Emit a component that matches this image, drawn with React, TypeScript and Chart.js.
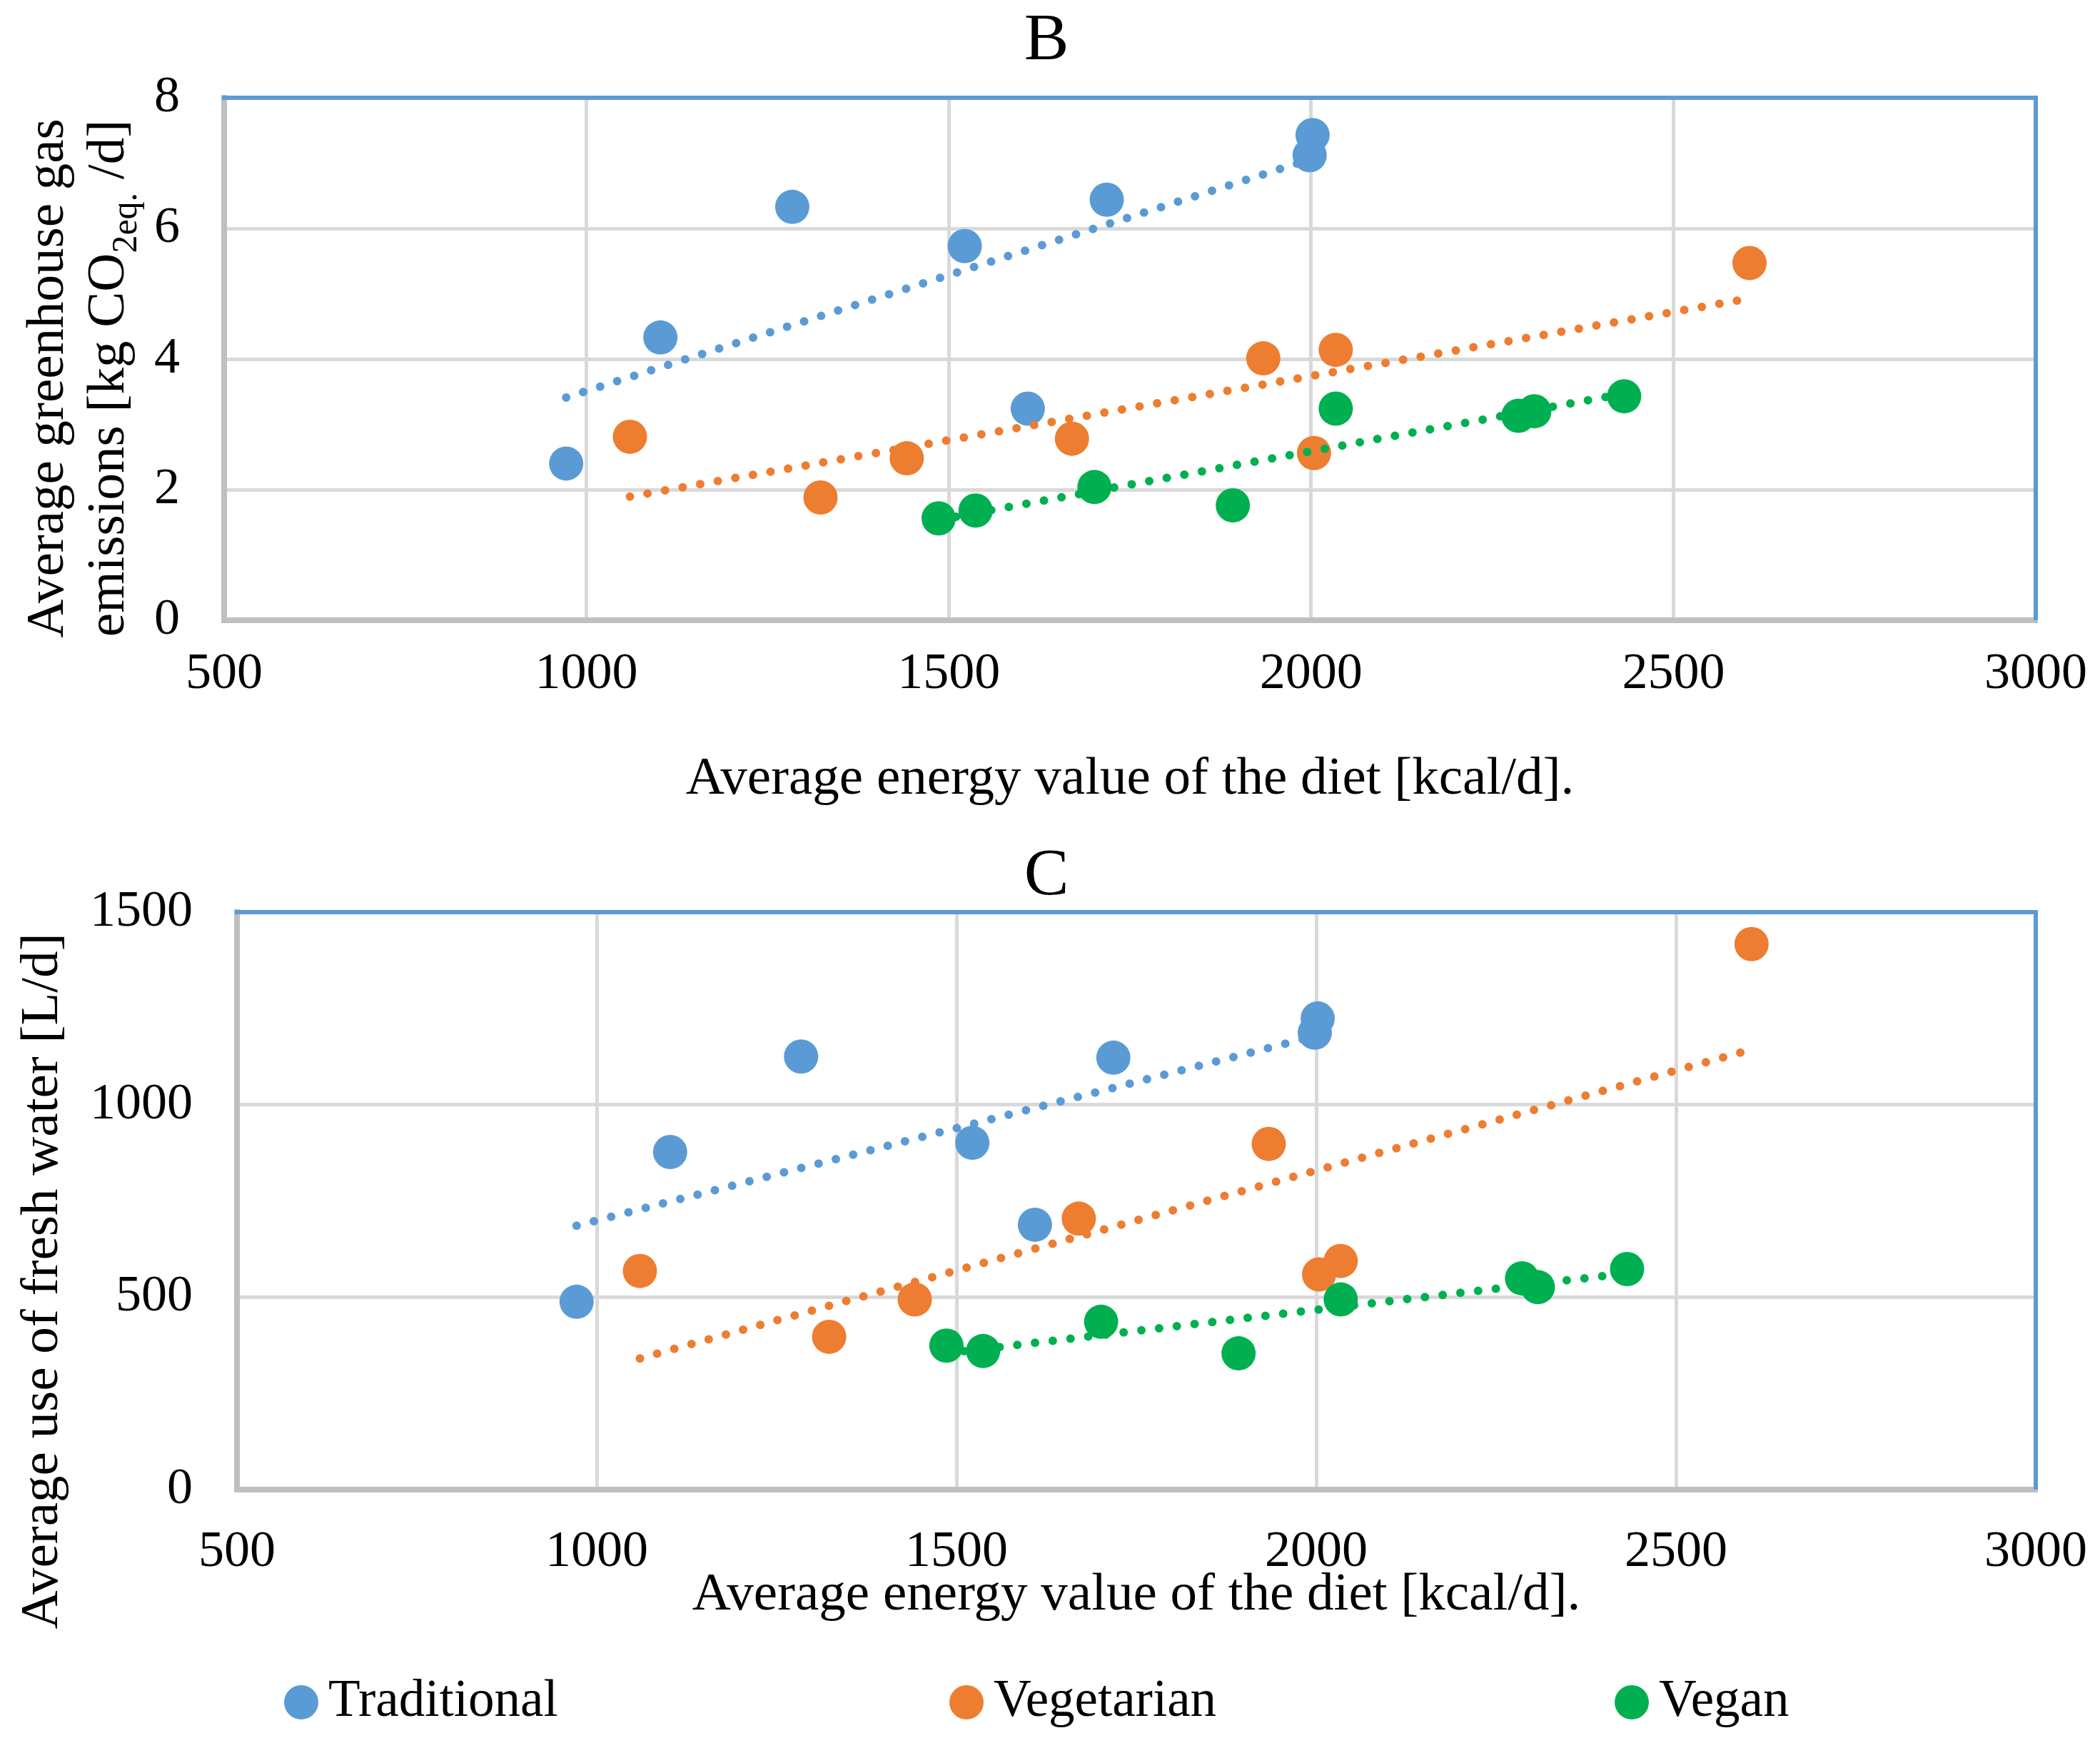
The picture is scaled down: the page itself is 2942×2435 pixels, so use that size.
import React, { useEffect, useRef } from "react";
import { Chart, registerables } from "chart.js";

Chart.register(...registerables);

const FONT = "'Liberation Serif', 'Times New Roman', Times, serif";

// ---- data ----
const seriesNames = ["Traditional", "Vegetarian", "Vegan"];
const seriesColors = ["#5B9BD5", "#ED7D31", "#00B050"];

const energyTraditional = [972, 1102, 1284, 1522, 1609, 1718, 2002, 1998];
const energyVegetarian = [1060, 1323, 1442, 1670, 1934, 2034, 2004, 2605];
const energyVegan = [1486, 1537, 1701, 1892, 2034, 2286, 2308, 2432];

const ghgTraditional = [2.4, 4.33, 6.33, 5.73, 3.24, 6.44, 7.43, 7.12];
const ghgVegetarian = [2.81, 1.88, 2.48, 2.78, 4.01, 4.14, 2.56, 5.47];
const ghgVegan = [1.56, 1.68, 2.04, 1.76, 3.24, 3.13, 3.2, 3.43];

const waterTraditional = [488, 877, 1125, 901, 688, 1122, 1224, 1187];
const waterVegetarian = [568, 397, 494, 704, 898, 594, 559, 1417];
const waterVegan = [374, 360, 436, 354, 494, 549, 526, 573];

const xTicks = [500, 1000, 1500, 2000, 2500, 3000];
const ghgTicks = [0, 2, 4, 6, 8];
const waterTicks = [0, 500, 1000, 1500];

const xTitle = "Average energy value of the diet [kcal/d].";

// ---- helpers ----
function pairs(xs: number[], ys: number[]) {
  return xs.map((x, i) => ({ x, y: ys[i] }));
}

// linear least-squares trendline (as Excel's linear trendline) over data range
function trend(xs: number[], ys: number[]) {
  const n = xs.length;
  const mx = xs.reduce((a, b) => a + b, 0) / n;
  const my = ys.reduce((a, b) => a + b, 0) / n;
  let sxy = 0;
  let sxx = 0;
  for (let i = 0; i < n; i++) {
    sxy += (xs[i] - mx) * (ys[i] - my);
    sxx += (xs[i] - mx) * (xs[i] - mx);
  }
  const b = sxy / sxx;
  const a = my - b * mx;
  const x0 = Math.min(...xs);
  const x1 = Math.max(...xs);
  return [
    { x: x0, y: a + b * x0 },
    { x: x1, y: a + b * x1 },
  ];
}

function buildDatasets(xsList: number[][], ysList: number[][]) {
  const ds: any[] = [];
  xsList.forEach((xs, i) => {
    ds.push({
      label: seriesNames[i] + " trend",
      data: trend(xs, ysList[i]),
      showLine: true,
      borderColor: seriesColors[i],
      backgroundColor: seriesColors[i],
      borderWidth: 12,
      borderDash: [0, 25],
      borderCapStyle: "round",
      pointRadius: 0,
      pointHoverRadius: 0,
      fill: false,
      order: 0,
    });
  });
  xsList.forEach((xs, i) => {
    ds.push({
      label: seriesNames[i],
      data: pairs(xs, ysList[i]),
      showLine: false,
      backgroundColor: seriesColors[i],
      borderColor: seriesColors[i],
      borderWidth: 0,
      pointRadius: 24,
      pointHoverRadius: 24,
      order: 3 - i,
    });
  });
  return ds;
}

type Seg = { text: string; size: number; shift?: number };

function yTitlePlugin(lines: { baseline: number; segs: Seg[] }[], centerY: number) {
  return {
    id: "richYTitle",
    afterDraw(chart: any) {
      const ctx = chart.ctx as CanvasRenderingContext2D;
      ctx.save();
      ctx.fillStyle = "#000";
      ctx.textBaseline = "alphabetic";
      ctx.textAlign = "left";
      for (const line of lines) {
        let total = 0;
        const widths: number[] = [];
        for (const s of line.segs) {
          ctx.font = `${s.size}px ${FONT}`;
          const w = ctx.measureText(s.text).width;
          widths.push(w);
          total += w;
        }
        ctx.save();
        ctx.translate(line.baseline, centerY);
        ctx.rotate(-Math.PI / 2);
        let x = -total / 2;
        line.segs.forEach((s, i) => {
          ctx.font = `${s.size}px ${FONT}`;
          ctx.fillText(s.text, x, s.shift || 0);
          x += widths[i];
        });
        ctx.restore();
      }
      ctx.restore();
    },
  };
}

const frameBorderPlugin = {
  id: "frameBorder",
  beforeDatasetsDraw(chart: any) {
    const { ctx, chartArea: a } = chart;
    ctx.save();
    ctx.strokeStyle = "#5B9BD5";
    ctx.lineWidth = 6;
    ctx.beginPath();
    ctx.moveTo(a.left - 3, a.top);
    ctx.lineTo(a.right, a.top);
    ctx.lineTo(a.right, a.bottom);
    ctx.stroke();
    ctx.restore();
  },
};

const spreadLegendPlugin = {
  id: "spreadLegend",
  afterDraw(chart: any) {
    const ctx = chart.ctx as CanvasRenderingContext2D;
    const cy = chart.height - 50;
    ctx.save();
    seriesNames.forEach((name, i) => {
      const cx = 422 + i * 932;
      ctx.beginPath();
      ctx.arc(cx, cy, 24, 0, Math.PI * 2);
      ctx.fillStyle = seriesColors[i];
      ctx.fill();
      ctx.font = `73px ${FONT}`;
      ctx.fillStyle = "#000";
      ctx.textBaseline = "middle";
      ctx.textAlign = "left";
      ctx.fillText(name, cx + 38, cy);
    });
    ctx.restore();
  },
};

function makeOptions(cfg: {
  title: string;
  titlePad: { top: number; bottom: number };
  yMin: number;
  yMax: number;
  yTicks: number[];
  yWidth: number;
  xTickPad: number;
  xTitlePad: { top: number; bottom: number };
  padBottom: number;
}) {
  return {
    responsive: true,
    maintainAspectRatio: false,
    animation: false,
    devicePixelRatio: 1,
    events: [],
    layout: { padding: { left: 80, right: 90, top: 0, bottom: cfg.padBottom } },
    plugins: {
      legend: { display: false },
      tooltip: { enabled: false },
      title: {
        display: true,
        text: cfg.title,
        color: "#000",
        font: { family: FONT, size: 94, weight: "normal", lineHeight: 1 },
        padding: cfg.titlePad,
      },
    },
    scales: {
      x: {
        type: "linear",
        min: 500,
        max: 3000,
        afterBuildTicks: (s: any) => {
          s.ticks = xTicks.map((v) => ({ value: v }));
        },
        afterFit: (s: any) => {
          s.paddingLeft = 0;
          s.paddingRight = 0;
        },
        grid: { color: "#D9D9D9", lineWidth: 5, drawTicks: false },
        border: { display: true, color: "#BFBFBF", width: 8 },
        ticks: {
          color: "#000",
          font: { family: FONT, size: 72, lineHeight: 1 },
          padding: cfg.xTickPad,
          maxRotation: 0,
          autoSkip: false,
          callback: (v: any) => String(v),
        },
        title: {
          display: true,
          text: xTitle,
          color: "#000",
          font: { family: FONT, size: 75, lineHeight: 1 },
          padding: cfg.xTitlePad,
        },
      },
      y: {
        type: "linear",
        min: cfg.yMin,
        max: cfg.yMax,
        afterBuildTicks: (s: any) => {
          s.ticks = cfg.yTicks.map((v) => ({ value: v }));
        },
        afterFit: (s: any) => {
          s.width = cfg.yWidth;
        },
        grid: { color: "#D9D9D9", lineWidth: 5, drawTicks: false },
        border: { display: true, color: "#BFBFBF", width: 8 },
        ticks: {
          color: "#000",
          font: { family: FONT, size: 72, lineHeight: 1 },
          padding: 62,
          autoSkip: false,
          callback: (v: any) => String(v),
        },
      },
    },
  };
}

export default function App() {
  const refB = useRef<HTMLCanvasElement>(null);
  const refC = useRef<HTMLCanvasElement>(null);

  useEffect(() => {
    const chartB = new Chart(refB.current as HTMLCanvasElement, {
      type: "scatter",
      data: {
        datasets: buildDatasets(
          [energyTraditional, energyVegetarian, energyVegan],
          [ghgTraditional, ghgVegetarian, ghgVegan]
        ),
      },
      options: makeOptions({
        title: "B",
        titlePad: { top: 11, bottom: 32 },
        yMin: 0,
        yMax: 8,
        yTicks: ghgTicks,
        yWidth: 234,
        xTickPad: 40,
        xTitlePad: { top: 33.5, bottom: 10 },
        padBottom: 10.5,
      }) as any,
      plugins: [
        frameBorderPlugin,
        yTitlePlugin(
          [
            { baseline: 88, segs: [{ text: "Average greenhouse gas", size: 75 }] },
            {
              baseline: 173,
              segs: [
                { text: "emissions [kg CO", size: 75 },
                { text: "2eq.", size: 50, shift: 18 },
                { text: " /d]", size: 75 },
              ],
            },
          ],
          530
        ),
      ],
    });

    const chartC = new Chart(refC.current as HTMLCanvasElement, {
      type: "scatter",
      data: {
        datasets: buildDatasets(
          [energyTraditional, energyVegetarian, energyVegan],
          [waterTraditional, waterVegetarian, waterVegan]
        ),
      },
      options: makeOptions({
        title: "C",
        titlePad: { top: 31, bottom: 3 },
        yMin: 0,
        yMax: 1500,
        yTicks: waterTicks,
        yWidth: 252,
        xTickPad: 52,
        xTitlePad: { top: -65.5, bottom: 10 },
        padBottom: 152.5,
      }) as any,
      plugins: [
        frameBorderPlugin,
        spreadLegendPlugin,
        yTitlePlugin(
          [{ baseline: 80, segs: [{ text: "Average use of fresh water [L/d]", size: 75 }] }],
          645
        ),
      ],
    });

    return () => {
      chartB.destroy();
      chartC.destroy();
    };
  }, []);

  return (
    <div
      style={{
        position: "absolute",
        left: 0,
        top: 0,
        width: 2942,
        height: 2435,
        background: "#fff",
      }}
    >
      <div style={{ position: "absolute", left: 0, top: 0, width: 2942, height: 1150 }}>
        <canvas ref={refB} />
      </div>
      <div style={{ position: "absolute", left: 0, top: 1150, width: 2942, height: 1285 }}>
        <canvas ref={refC} />
      </div>
    </div>
  );
}
